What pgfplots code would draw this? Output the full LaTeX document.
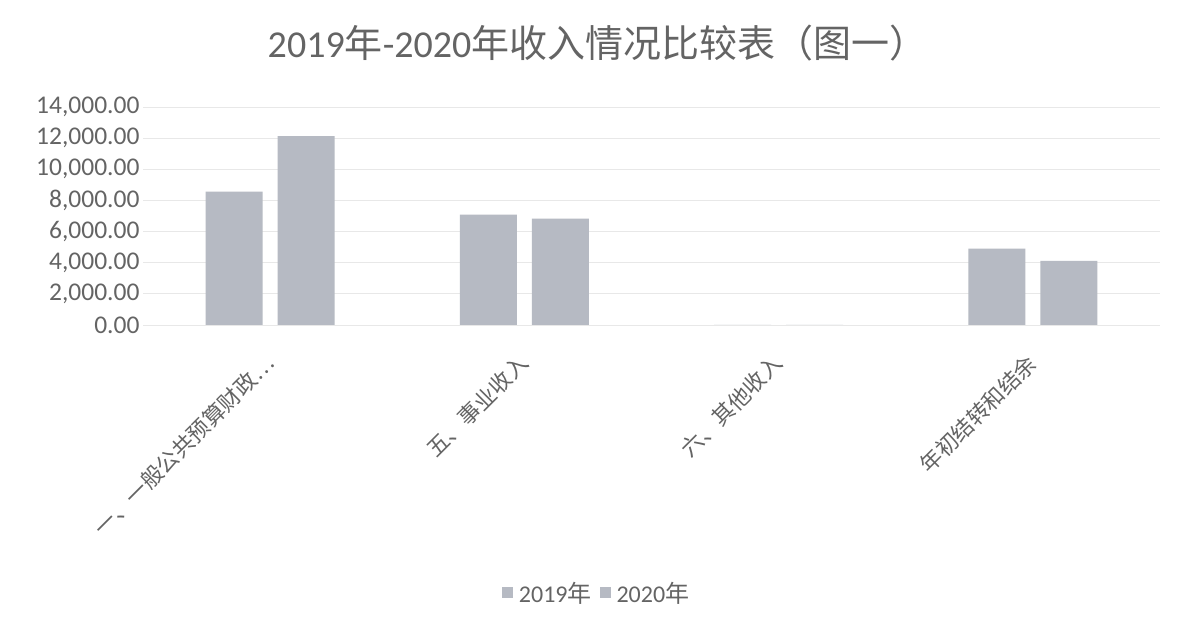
\documentclass[border=0pt]{standalone}
\usepackage{pgfplots}
\pgfplotsset{compat=1.18}
\usepackage{fontspec}
\setmainfont{Carlito}
\newfontfamily\cjk{Noto Sans CJK SC}
\definecolor{barcol}{RGB}{182,186,195}
\definecolor{txt}{RGB}{100,100,100}
\begin{document}
\begin{tikzpicture}
\path[use as bounding box, fill=white] (0,0) rectangle (1180pt,629pt);
\begin{axis}[
  at={(143pt,304pt)}, anchor=south west,
  scale only axis, width=1017pt, height=218pt,
  xmin=-0.5, xmax=3.5, ymin=0, ymax=14000,
  ytick distance=2000,
  xtick={0,1,2,3},
  xticklabels={{\cjk 一、一般公共预算财政…},{\cjk 五、事业收入},{\cjk 六、其他收入},{\cjk 年初结转和结余}},
  xticklabel style={shift={(2pt,-32pt)}, rotate=45, anchor=east, font=\fontsize{22}{24}\selectfont, text=txt},
  yticklabel style={font=\fontsize{25.5}{27}\selectfont, text=txt},
  /pgf/number format/.cd, fixed, fixed zerofill, precision=2, 1000 sep={,}, assume math mode=true,
  /pgfplots/.cd,
  scaled y ticks=false,
  axis line style={draw=none},
  major tick length=0pt,
  ymajorgrids, grid style={black!9, line width=0.8pt},
  ybar=15pt, bar width=57pt,
  title={2019{\cjk 年}-2020{\cjk 年收入情况比较表（图一）}},
  title style={at={(axis description cs:0.447,1.265)}, anchor=center, font=\fontsize{38}{40}\selectfont, text=txt},
  legend style={at={(axis description cs:0.446,-1.229)}, anchor=center, draw=none, fill=none, font=\fontsize{24}{26}\selectfont, text=txt, legend columns=2,
    /tikz/every odd column/.append style={column sep=4pt},
    /tikz/every even column/.append style={column sep=6pt}},
  legend image code/.code={\fill[#1] (0pt,-5.5pt) rectangle (11pt,5.5pt);},
]
\addplot[fill=barcol, draw=none] coordinates {(0,8570) (1,7090) (2,0) (3,4900)};
\addplot[fill=barcol, draw=none] coordinates {(0,12130) (1,6830) (2,0) (3,4120)};
\legend{2019{\cjk 年}, 2020{\cjk 年}}
\end{axis}
\end{tikzpicture}
\end{document}
